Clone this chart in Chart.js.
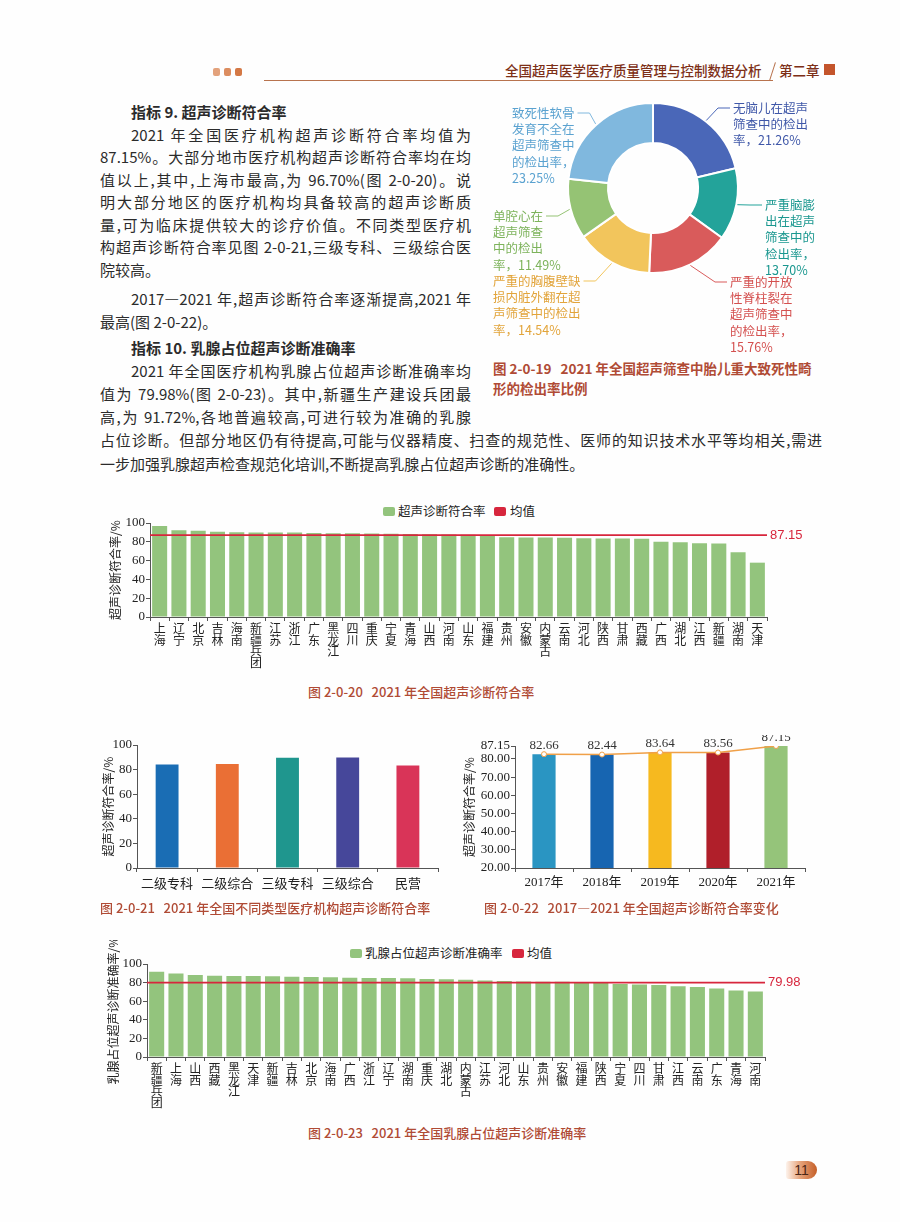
<!DOCTYPE html>
<html lang="zh-CN">
<head>
<meta charset="utf-8">
<title>超声诊断符合率</title>
<script src="https://cdn.jsdelivr.net/npm/chart.js@4.4.1/dist/chart.umd.min.js"></script>
<style>
html,body{margin:0;padding:0;background:#fff;}
#page{position:relative;width:900px;height:1222px;overflow:hidden;background:#fefefe;font-family:'Noto Sans CJK SC',sans-serif;color:#2b2b2b;}
.ab{position:absolute;}
.ln{position:absolute;font-size:15px;line-height:22px;height:22px;white-space:normal;}
.j{text-align:justify;text-align-last:justify;}
.b{font-weight:700;}
.cap{position:absolute;font-size:13px;color:#b04b35;line-height:18px;white-space:pre;font-weight:500;}
.lg{position:absolute;font-size:12.5px;line-height:14px;white-space:nowrap;color:#222;}
.sw{position:absolute;width:12px;height:9px;border-radius:2px;}
.hd{position:absolute;font-size:13.5px;line-height:18px;color:#7d2f17;white-space:nowrap;font-weight:500;}
.sq{position:absolute;width:7px;height:8px;border-radius:2px;background:#d98655;}
</style>
</head>
<body>
<div id="page">
  <!-- header -->
  <div class="sq" style="left:213px;top:68px;background:#e3a27c"></div>
  <div class="sq" style="left:224px;top:68px;background:#dc8d60"></div>
  <div class="sq" style="left:235px;top:68px;background:#d47845"></div>
  <div class="ab" style="left:264px;top:80px;width:509px;height:1px;background:#b8734e"></div>
  <div class="hd" style="left:505px;top:61px">全国超声医学医疗质量管理与控制数据分析</div>
  <div class="ab" style="left:772px;top:62px;width:1px;height:19px;background:#b8734e;transform:rotate(18deg)"></div>
  <div class="hd" style="left:779px;top:61px">第二章</div>
  <div class="ab" style="left:824px;top:64px;width:11px;height:11px;background:#c4552c"></div>

  <!-- body text -->
  <div class="ln b" style="left:131px;top:101px">指标 9. 超声诊断符合率</div>
  <div class="ln j" style="left:131px;top:124px;width:340px">2021 年全国医疗机构超声诊断符合率均值为</div>
  <div class="ln j" style="left:100px;top:146px;width:371px">87.15%。大部分地市医疗机构超声诊断符合率均在均</div>
  <div class="ln j" style="left:100px;top:169px;width:371px">值以上,其中,上海市最高,为 96.70%(图 2-0-20)。说</div>
  <div class="ln j" style="left:100px;top:191px;width:371px">明大部分地区的医疗机构均具备较高的超声诊断质</div>
  <div class="ln j" style="left:100px;top:214px;width:371px">量,可为临床提供较大的诊疗价值。不同类型医疗机</div>
  <div class="ln j" style="left:100px;top:236px;width:371px">构超声诊断符合率见图 2-0-21,三级专科、三级综合医</div>
  <div class="ln" style="left:100px;top:259px">院较高。</div>
  <div class="ln j" style="left:131px;top:288px;width:340px">2017—2021 年,超声诊断符合率逐渐提高,2021 年</div>
  <div class="ln" style="left:100px;top:311px">最高(图 2-0-22)。</div>
  <div class="ln b" style="left:131px;top:337px">指标 10. 乳腺占位超声诊断准确率</div>
  <div class="ln j" style="left:131px;top:360px;width:340px">2021 年全国医疗机构乳腺占位超声诊断准确率均</div>
  <div class="ln j" style="left:100px;top:383px;width:371px">值为 79.98%(图 2-0-23)。其中,新疆生产建设兵团最</div>
  <div class="ln j" style="left:100px;top:406px;width:371px">高,为 91.72%,各地普遍较高,可进行较为准确的乳腺</div>
  <div class="ln j" style="left:100px;top:429px;width:722px">占位诊断。但部分地区仍有待提高,可能与仪器精度、扫查的规范性、医师的知识技术水平等均相关,需进</div>
  <div class="ln" style="left:100px;top:453px">一步加强乳腺超声检查规范化培训,不断提高乳腺占位超声诊断的准确性。</div>

  <!-- figure 2-0-19 -->
  <div class="ab" style="left:480px;top:90px;width:340px;height:265px"><canvas id="c19"></canvas></div>
  <div class="cap" style="left:493px;top:359px;font-size:13.5px;font-weight:700">图 2-0-19   2021 年全国超声筛查中胎儿重大致死性畸</div>
  <div class="cap" style="left:493px;top:379px;font-size:13.5px;font-weight:700">形的检出率比例</div>

  <!-- figure 2-0-20 -->
  <div class="sw" style="left:383px;top:507px;background:#93c47d"></div>
  <div class="lg" style="left:398px;top:504px">超声诊断符合率</div>
  <div class="sw" style="left:494px;top:507px;background:#d7263d"></div>
  <div class="lg" style="left:510px;top:504px">均值</div>
  <div class="ab" style="left:100px;top:500px;width:720px;height:180px"><canvas id="c20"></canvas></div>
  <div class="cap" style="left:308px;top:683px">图 2-0-20   2021 年全国超声诊断符合率</div>

  <!-- figure 2-0-21 -->
  <div class="ab" style="left:100px;top:735px;width:355px;height:165px"><canvas id="c21"></canvas></div>
  <div class="cap" style="left:100px;top:899px">图 2-0-21   2021 年全国不同类型医疗机构超声诊断符合率</div>

  <!-- figure 2-0-22 -->
  <div class="ab" style="left:460px;top:735px;width:350px;height:165px"><canvas id="c22"></canvas></div>
  <div class="cap" style="left:484px;top:899px">图 2-0-22   2017—2021 年全国超声诊断符合率变化</div>

  <!-- figure 2-0-23 -->
  <div class="sw" style="left:350px;top:949px;background:#93c47d"></div>
  <div class="lg" style="left:365px;top:946px">乳腺占位超声诊断准确率</div>
  <div class="sw" style="left:512px;top:949px;background:#d7263d"></div>
  <div class="lg" style="left:527px;top:946px">均值</div>
  <div class="ab" style="left:100px;top:940px;width:720px;height:180px"><canvas id="c23"></canvas></div>
  <div class="cap" style="left:308px;top:1124px">图 2-0-23   2021 年全国乳腺占位超声诊断准确率</div>

  <!-- page number -->
  <div class="ab" style="left:786px;top:1161px;width:31px;height:18px;border-radius:3px 9px 9px 3px;background:linear-gradient(to right,#fdf3ec,#e6a47c 45%,#c55f28);"></div>
  <div class="ab" style="left:786px;top:1161px;width:31px;height:18px;line-height:18px;text-align:center;font-family:'Liberation Sans',sans-serif;font-size:14px;color:#4a2616">11</div>
</div>

<script>
// ---------- data ----------
const donutLabels = ['无脑儿','严重脑膨出','严重的开放性脊柱裂','严重的胸腹壁缺损内脏外翻','单腔心','致死性软骨发育不全'];
const donutValues = [21.26, 13.70, 15.76, 14.54, 11.49, 23.25];

const regions20 = ['上海','辽宁','北京','吉林','海南','新疆兵团','江苏','浙江','广东','黑龙江','四川','重庆','宁夏','青海','山西','河南','山东','福建','贵州','安徽','内蒙古','云南','河北','陕西','甘肃','西藏','广西','湖北','江西','新疆','湖南','天津'];
const values20 = [96.70,92.3,91.8,90.8,90.1,90.0,90.0,89.9,89.4,89.2,89.0,88.8,88.6,88.3,88.0,87.8,87.5,87.3,84.8,84.6,84.5,84.4,83.8,83.6,83.4,83.3,80.1,79.5,78.5,78.1,68.9,57.8];
const mean20 = 87.15;

const types21 = ['二级专科','二级综合','三级专科','三级综合','民营'];
const values21 = [84.2, 84.5, 89.6, 89.9, 83.3];

const years22 = ['2017年','2018年','2019年','2020年','2021年'];
const values22 = [82.66, 82.44, 83.64, 83.56, 87.15];
const ticks22 = [20, 30, 40, 50, 60, 70, 80, 87.15];

const regions23 = ['新疆兵团','上海','山西','西藏','黑龙江','天津','新疆','吉林','北京','海南','广西','浙江','辽宁','湖南','重庆','湖北','内蒙古','江苏','河北','山东','贵州','安徽','福建','陕西','宁夏','四川','甘肃','江西','云南','广东','青海','河南'];
const values23 = [91.72,89.9,88.2,87.4,87.1,87.0,86.9,86.2,86.0,85.7,85.3,85.0,84.9,84.8,84.0,83.5,83.1,82.2,81.6,81.3,81.0,80.9,80.5,80.3,78.6,78.0,77.3,76.2,75.4,73.6,71.4,70.3];
const mean23 = 79.98;

// ---------- styles ----------
const CJK = "'Noto Sans CJK SC', sans-serif";
const SERIF = "'Liberation Serif', 'Noto Sans CJK SC', serif";
const GREEN = '#93c47d';
const RED = '#d7263d';
const AXIS = '#555';
const donutColors = ['#4a67b8','#23a39a','#d95b5b','#f2c55c','#95c374','#80b8de'];
const donutText = ['#3f57a8','#1a978f','#d4504f','#e2a43a','#7db35b','#5aa2d0'];
const colors21 = ['#1a6db4','#ea6f35','#1f968e','#46479a','#d93458'];
const colors22 = ['#2a95c2','#1765b1','#f6b91f','#b01f2a','#95c47a'];

Chart.defaults.font.family = CJK;
Chart.defaults.color = '#222';
Chart.defaults.animation = false;

// label layout for the doughnut (canvas-local positions of the text blocks)
const donutSpec = [
  {x:253, y:18,  side:'r', lines:['无脑儿在超声','筛查中的检出','率，21.26%']},
  {x:285, y:115, side:'r', lines:['严重脑膨','出在超声','筛查中的','检出率，','13.70%']},
  {x:250, y:192, side:'r', lines:['严重的开放','性脊柱裂在','超声筛查中','的检出率，','15.76%']},
  {x:13,  y:191, side:'l', lines:['严重的胸腹壁缺','损内脏外翻在超','声筛查中的检出','率，14.54%']},
  {x:13,  y:126, side:'l', lines:['单腔心在','超声筛查','中的检出','率，11.49%']},
  {x:32,  y:23,  side:'l', lines:['致死性软骨','发育不全在','超声筛查中','的检出率，','23.25%']}
];

const donutLabelPlugin = {
  id: 'donutLabels',
  afterDatasetsDraw(chart) {
    const meta = chart.getDatasetMeta(0);
    const c = chart.ctx;
    c.save();
    c.font = "12.5px 'Noto Sans CJK SC'";
    c.textBaseline = 'middle';
    c.textAlign = 'left';
    donutSpec.forEach((sp, i) => {
      const arc = meta.data[i];
      const mid = (arc.startAngle + arc.endAngle) / 2;
      const R = arc.outerRadius + 1;
      const px = arc.x + Math.cos(mid) * R, py = arc.y + Math.sin(mid) * R;
      const ex = sp.side === 'r' ? sp.x - 3 : sp.x + c.measureText(sp.lines[0]).width + 3;
      const elbow = sp.side === 'r' ? ex - 12 : ex + 12;
      c.strokeStyle = donutColors[i];
      c.lineWidth = 1;
      c.beginPath(); c.moveTo(px, py); c.lineTo(elbow, sp.y); c.lineTo(ex, sp.y); c.stroke();
      c.fillStyle = donutText[i];
      sp.lines.forEach((t, k) => c.fillText(t, sp.x, sp.y + k * 16.3));
    });
    c.restore();
  }
};

const meanLabelPlugin = {
  id: 'meanLabel',
  afterDatasetsDraw(chart) {
    chart.data.datasets.forEach((ds, i) => {
      if (!ds.meanText) return;
      const meta = chart.getDatasetMeta(i);
      const pt = meta.data[meta.data.length - 1];
      const c = chart.ctx;
      c.save();
      c.font = "13px 'Liberation Sans', sans-serif";
      c.fillStyle = RED;
      c.textBaseline = 'middle';
      c.textAlign = 'left';
      c.fillText(ds.meanText, pt.x + 3, pt.y);
      c.restore();
    });
  }
};

const valueLabelPlugin = {
  id: 'valueLabels',
  afterDatasetsDraw(chart) {
    chart.data.datasets.forEach((ds, i) => {
      if (!ds.showValues) return;
      const meta = chart.getDatasetMeta(i);
      const c = chart.ctx;
      c.save();
      c.font = "13px 'Liberation Serif', serif";
      c.fillStyle = '#333';
      c.textAlign = 'center';
      c.textBaseline = 'middle';
      meta.data.forEach((pt, k) => c.fillText(ds.data[k].toFixed(2), pt.x, pt.y - 8.5));
      c.restore();
    });
  }
};

function tickGrid() {
  return { display: true, drawOnChartArea: false, drawTicks: true, tickLength: 4, color: AXIS, lineWidth: 1 };
}

// ---------- 2-0-19 doughnut ----------
new Chart(document.getElementById('c19'), {
  type: 'doughnut',
  data: { labels: donutLabels, datasets: [{ data: donutValues, backgroundColor: donutColors, borderColor: '#fff', borderWidth: 2 }] },
  options: {
    responsive: true, maintainAspectRatio: false, cutout: '53%',
    layout: { padding: { left: 87, right: 81, top: 12, bottom: 81 } },
    plugins: { legend: { display: false }, tooltip: { enabled: false } }
  },
  plugins: [donutLabelPlugin]
});

// ---------- regional bar + mean chart ----------
function regionChart(id, cats, vals, mean, meanText, yTitle, yWidth, padTop, padRight, titlePad) {
  return new Chart(document.getElementById(id), {
    type: 'bar',
    data: {
      labels: cats.map(s => s.split('')),
      datasets: [
        { type: 'bar', label: yTitle, data: vals, backgroundColor: GREEN, barPercentage: 0.78, categoryPercentage: 1, grouped: false, order: 2 },
        { type: 'line', label: '均值', data: [{ x: 0, y: mean }, { x: 1, y: mean }], xAxisID: 'x2',
          borderColor: RED, backgroundColor: RED, borderWidth: 1.7, pointRadius: 0, order: 1, meanText: meanText }
      ]
    },
    options: {
      responsive: true, maintainAspectRatio: false,
      layout: { padding: { top: padTop, right: padRight, left: 0, bottom: 0 } },
      plugins: { legend: { display: false }, tooltip: { enabled: false } },
      scales: {
        x: {
          type: 'category', offset: true,
          grid: Object.assign(tickGrid(), { offset: true }),
          border: { display: true, color: AXIS, width: 1 },
          ticks: { autoSkip: false, maxRotation: 0, minRotation: 0, padding: 2, color: '#222', font: { family: CJK, size: 12, lineHeight: 0.95 } },
          afterFit: s => { s.height = 63; }
        },
        x2: { type: 'linear', min: 0, max: 1, offset: false, grid: { offset: false }, display: false },
        y: {
          min: 0, max: 100,
          ticks: { stepSize: 20, autoSkip: false, padding: 1, color: '#222', font: { family: SERIF, size: 13 } },
          grid: tickGrid(),
          border: { display: true, color: AXIS, width: 1 },
          title: { display: true, text: yTitle + '/%', color: '#222', font: { family: CJK, size: 12 }, padding: { top: titlePad, bottom: 0 } },
          afterFit: s => { s.width = yWidth; }
        }
      }
    },
    plugins: [meanLabelPlugin]
  });
}

regionChart('c20', regions20, values20, mean20, '87.15', '超声诊断符合率', 50, 23, 53, 8);
regionChart('c23', regions23, values23, mean23, '79.98', '乳腺占位超声诊断准确率', 47, 24, 55, 6);

// ---------- 2-0-21 ----------
new Chart(document.getElementById('c21'), {
  type: 'bar',
  data: { labels: types21, datasets: [{ data: values21, backgroundColor: colors21, barPercentage: 0.38, categoryPercentage: 1 }] },
  options: {
    responsive: true, maintainAspectRatio: false,
    layout: { padding: { top: 10, right: 17, left: 0, bottom: 0 } },
    plugins: { legend: { display: false }, tooltip: { enabled: false } },
    scales: {
      x: {
        grid: Object.assign(tickGrid(), { offset: true }),
        border: { display: true, color: AXIS, width: 1 },
        ticks: { padding: 3, color: '#222', font: { family: CJK, size: 13 } },
        afterFit: s => { s.height = 32; }
      },
      y: {
        min: 0, max: 100,
        ticks: { stepSize: 20, autoSkip: false, padding: 1, color: '#222', font: { family: SERIF, size: 13 } },
        grid: tickGrid(),
        border: { display: true, color: AXIS, width: 1 },
        title: { display: true, text: '超声诊断符合率/%', color: '#222', font: { family: CJK, size: 12 }, padding: { top: 1, bottom: 0 } },
        afterFit: s => { s.width = 37; }
      }
    }
  }
});

// ---------- 2-0-22 ----------
new Chart(document.getElementById('c22'), {
  type: 'bar',
  data: {
    labels: years22,
    datasets: [
      { type: 'line', data: values22, borderColor: '#f0a048', borderWidth: 1.5, pointRadius: 2.5, pointBackgroundColor: '#fff',
        pointBorderColor: '#f0a048', pointBorderWidth: 1, order: 0, showValues: true },
      { type: 'bar', data: values22, backgroundColor: colors22, barPercentage: 0.4, categoryPercentage: 1, grouped: false, order: 1 }
    ]
  },
  options: {
    responsive: true, maintainAspectRatio: false,
    layout: { padding: { top: 11, right: 3, left: 0, bottom: 0 } },
    plugins: { legend: { display: false }, tooltip: { enabled: false } },
    scales: {
      x: {
        grid: Object.assign(tickGrid(), { offset: true }),
        border: { display: true, color: AXIS, width: 1 },
        ticks: { padding: 3, color: '#222', font: { family: SERIF, size: 13 } },
        afterFit: s => { s.height = 32; }
      },
      y: {
        min: 20, max: 87.15,
        afterBuildTicks: s => { s.ticks = ticks22.map(v => ({ value: v })); },
        ticks: { autoSkip: false, padding: 1, color: '#222', font: { family: SERIF, size: 13 }, callback: v => Number(v).toFixed(2) },
        grid: tickGrid(),
        border: { display: true, color: AXIS, width: 1 },
        title: { display: true, text: '超声诊断符合率/%', color: '#222', font: { family: CJK, size: 12 }, padding: { top: 2, bottom: 0 } },
        afterFit: s => { s.width = 55; }
      }
    }
  },
  plugins: [valueLabelPlugin]
});
</script>
</body>
</html>
